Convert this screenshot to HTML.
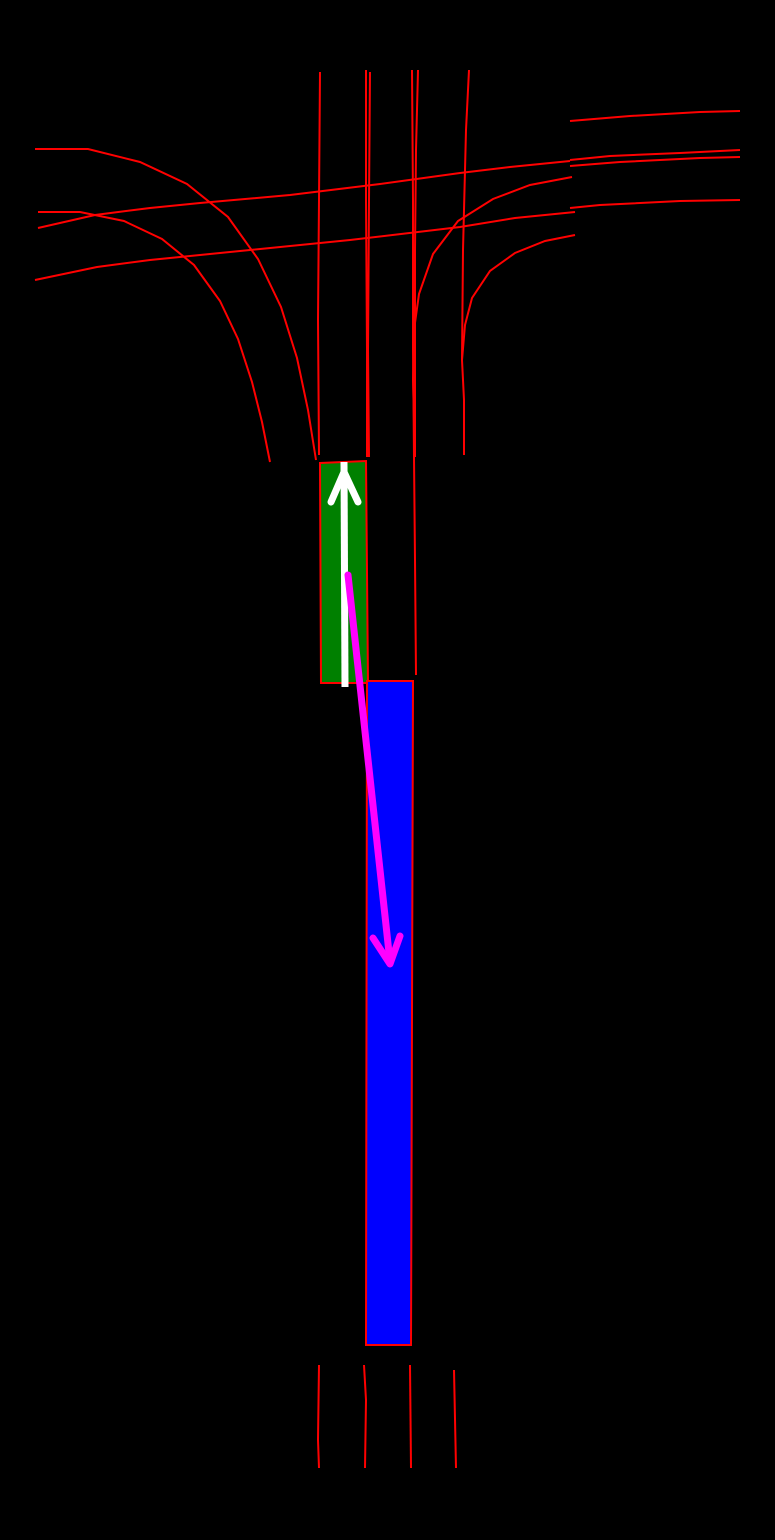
<!DOCTYPE html>
<html><head><meta charset="utf-8"><style>
html,body{margin:0;padding:0;background:#000;}
svg{display:block;}
</style></head><body>
<svg width="775" height="1540" viewBox="0 0 775 1540">
<rect x="0" y="0" width="775" height="1540" fill="#000"/>
<g fill="none" stroke="#ff0000" stroke-width="2">
  <path d="M320,72 L319,200 L318,320 L319,455"/>
  <path d="M366,70 L366,200 L367,350 L367,457"/>
  <path d="M370,72 L369,200 L368,350 L369,457"/>
  <path d="M412,70 L413,200 L413,350 L414,457"/>
  <path d="M418,70 L416,150 L415,250 L415,457"/>
  <path d="M469,70 L466,130 L463,250 L462,360 L464,400 L464,455"/>
  <path d="M35,149 L88,149 L140,162 L187,184 L228,217 L258,259 L281,307 L297,358 L308,410 L316,460"/>
  <path d="M38,212 L80,212 L124,221 L162,239 L194,265 L220,301 L238,339 L252,382 L262,422 L270,462"/>
  <path d="M38,228 L95,215 L150,208 L200,203 L290,195 L380,184 L460,173 L510,167 L570,161"/>
  <path d="M35,280 L97,267 L150,260 L250,250 L350,240 L460,227 L515,218 L575,212"/>
  <path d="M572,177 L530,185 L493,199 L458,221 L433,254 L419,294 L414,330 L413,380 L415,456"/>
  <path d="M575,235 L545,241 L515,253 L490,271 L472,298 L465,325 L462,360"/>
  <path d="M570,121 L630,116 L700,112 L740,111"/>
  <path d="M570,160 L610,156 L680,153 L740,150"/>
  <path d="M570,166 L620,162 L700,158 L740,157"/>
  <path d="M570,208 L600,205 L680,201 L740,200"/>
  <path d="M414,457 L415,560 L416,675"/>
  <path d="M319,1365 L318,1440 L319,1468"/>
  <path d="M364,1365 L366,1400 L365,1468"/>
  <path d="M410,1365 L411,1468"/>
  <path d="M454,1370 L456,1468"/>
</g>
<polygon points="320,463 366,461 368,683 321,683" fill="#008000" stroke="#ff0000" stroke-width="2"/>
<polygon points="367,681 413,681 411,1345 366,1345" fill="#0000ff" stroke="#ff0000" stroke-width="2"/>
<g stroke="#ffffff" stroke-width="7" fill="none" stroke-linecap="round" stroke-linejoin="round">
  <line x1="344" y1="462" x2="345" y2="687" stroke-linecap="butt"/>
  <path d="M331,502 L344,472 L358,502"/>
</g>
<g stroke="#ff00ff" stroke-width="7" fill="none" stroke-linecap="round" stroke-linejoin="round">
  <line x1="348" y1="575" x2="390" y2="962"/>
  <path d="M373,938 L390,964 L400,936"/>
</g>
</svg>
</body></html>
